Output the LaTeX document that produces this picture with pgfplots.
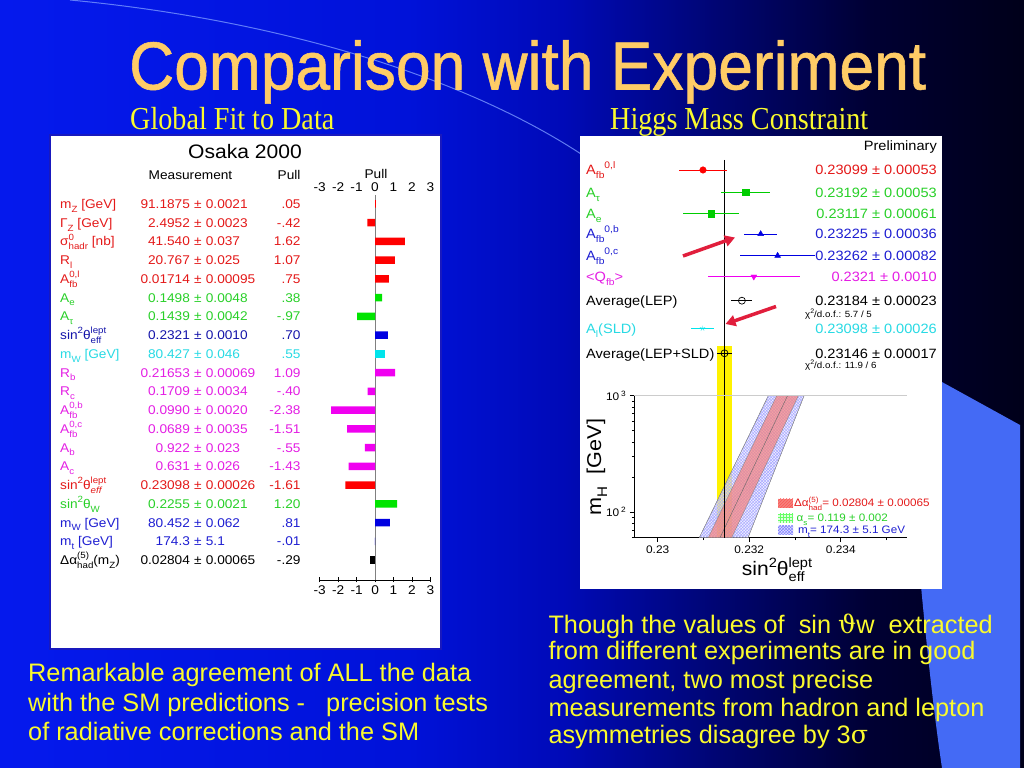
\documentclass[border=0pt]{standalone}
\usepackage{fontspec}
\usepackage{pgfplots}
\pgfplotsset{compat=1.18}
\usetikzlibrary{patterns,arrows.meta}
\setmainfont{Liberation Sans}
\newfontfamily\pf[FakeStretch=1.08]{Liberation Sans}
\newfontfamily\titlef[FakeStretch=0.917,FakeBold=0.8]{Liberation Sans}
\newfontfamily\subf[FakeStretch=0.88]{Liberation Serif}
\newfontfamily\dvs{DejaVu Serif}

\definecolor{tred}{RGB}{228,25,25}
\definecolor{tgreen}{RGB}{40,208,40}
\definecolor{tblue}{RGB}{30,30,210}
\definecolor{tdblue}{RGB}{20,20,170}
\definecolor{tcyan}{RGB}{40,218,228}
\definecolor{tmag}{RGB}{228,30,228}
\definecolor{bred}{RGB}{255,0,0}
\definecolor{bgreen}{RGB}{0,228,0}
\definecolor{bblue}{RGB}{0,0,225}
\definecolor{bcyan}{RGB}{0,228,235}
\definecolor{bmag}{RGB}{240,0,240}
\definecolor{titlec}{RGB}{255,204,102}
\definecolor{yel}{RGB}{250,250,45}
\definecolor{lightb}{RGB}{68,106,245}
\definecolor{arrowred}{RGB}{225,30,60}
\definecolor{tbord}{RGB}{25,25,190}
\definecolor{arcc}{RGB}{120,150,255}
\definecolor{salmon}{RGB}{245,130,125}

\pgfdeclarehorizontalshading{bgsh}{100bp}{rgb(0bp)=(0.02,0.1,0.93); rgb(25bp)=(0.02,0.1,0.93); rgb(45bp)=(0,0.07,0.85); rgb(52.5bp)=(0,0.04,0.72); rgb(60bp)=(0,0.02,0.45); rgb(67.5bp)=(0,0,0.2); rgb(75bp)=(0,0,0.1); rgb(100bp)=(0,0,0.1)}

\newdimen\scrsize \scrsize=9bp
\newcommand\scr{\fontsize{\scrsize}{\scrsize}\selectfont}
\newcommand\sub[1]{\raisebox{-0.3em}{\scr #1}}
\newcommand\sups[1]{\raisebox{0.45em}{\scr #1}}
\newcommand\supsub[2]{{\setbox0\hbox{\sups{#1}}\setbox2\hbox{\sub{#2}}\ifdim\wd0>\wd2 \rlap{\box2}\box0 \else\rlap{\box0}\box2 \fi}}

\tikzset{
 L/.style={inner sep=0pt, font={\pf\fontsize{12.65bp}{14bp}\selectfont\scrsize=9bp}},
 R/.style={inner sep=0pt, font={\pf\fontsize{13.5bp}{15bp}\selectfont\scrsize=9.5bp}},
}
\newcommand\lrow[6]{%
 \pgfmathsetmacro\yy{768-(204+(#1-1)*18.74)-4.5}%
 \node[L,anchor=base west,text=#2] at (60,\yy) {#3};%
 \node[L,anchor=base east,text=#2] at (190.1,\yy) {#4};%
 \node[L,anchor=base,text=#2] at (197.9,\yy) {±};%
 \node[L,anchor=base west,text=#2] at (205.7,\yy) {#5};%
 \node[L,anchor=base east,text=#2] at (300.7,\yy) {#6};}
\newcommand\rrow[4]{%
 \pgfmathsetmacro\yy{768-#1-4.8}%
 \node[R,anchor=base west,text=#2] at (586,\yy) {#3};%
 \node[R,anchor=base east,text=#2] at (937,\yy) {#4};}

\begin{document}
\begin{tikzpicture}[x=1bp,y=1bp]
\useasboundingbox (0,0) rectangle (1024,768);
\shade[shading=bgsh] (0,0) rectangle (1024,768);
\fill[lightb] (902,408) -- (1020,343) -- (1020,0) -- (942,0) .. controls (930,80) and (918,200) .. (902,408) -- cycle;
\draw[arcc, line width=1bp, opacity=0.8] (70,768) .. controls (280,748) and (470,690) .. (590,608);

% title
\node[anchor=base west, inner sep=0, text=titlec, font={\titlef\fontsize{68bp}{70bp}\selectfont}] at (129,768-89.5) {Comparison with Experiment};
\node[anchor=base west, inner sep=0, text=yel, font={\subf\fontsize{32bp}{34bp}\selectfont}] at (130,768-130) {Global Fit to Data};
\node[anchor=base west, inner sep=0, text=yel, font={\subf\fontsize{32bp}{34bp}\selectfont}] at (610,768-130) {Higgs Mass Constraint};

% panels
\fill[white] (50,768-649) rectangle (441,768-135);
\draw[tbord, line width=2bp] (50,768-649) rectangle (441,768-135);
\fill[white] (580,768-589) rectangle (942,768-136);

% ---------- left panel ----------
\node[L, anchor=base, font={\pf\fontsize{19.5bp}{20bp}\selectfont}] at (245,768-158.7) {Osaka 2000};
\node[L, anchor=base] at (190.5,768-179.5) {Measurement};
\node[L, anchor=base east] at (300.7,768-179.5) {Pull};
\node[L, anchor=base] at (376,768-178.8) {Pull};
\foreach \v in {-3,...,3} {\node[L, anchor=base] at ({375+18.45*\v},768-191.8) {\v};}

\lrow{1}{tred}{m\sub{Z} [GeV]}{91.1875}{0.0021}{.05}
\lrow{2}{tred}{Γ\sub{Z} [GeV]}{2.4952}{0.0023}{-.42}
\lrow{3}{tred}{σ\supsub{0}{hadr} [nb]}{41.540}{0.037}{1.62}
\lrow{4}{tred}{R\sub{l}}{20.767}{0.025}{1.07}
\lrow{5}{tred}{A\supsub{0,l}{fb}}{0.01714}{0.00095}{.75}
\lrow{6}{tgreen}{A\sub{e}}{0.1498}{0.0048}{.38}
\lrow{7}{tgreen}{A\sub{τ}}{0.1439}{0.0042}{-.97}
\lrow{8}{tdblue}{sin\sups{2}θ\supsub{lept}{eff}}{0.2321}{0.0010}{.70}
\lrow{9}{tcyan}{m\sub{W} [GeV]}{80.427}{0.046}{.55}
\lrow{10}{tmag}{R\sub{b}}{0.21653}{0.00069}{1.09}
\lrow{11}{tmag}{R\sub{c}}{0.1709}{0.0034}{-.40}
\lrow{12}{tmag}{A\supsub{0,b}{fb}}{0.0990}{0.0020}{-2.38}
\lrow{13}{tmag}{A\supsub{0,c}{fb}}{0.0689}{0.0035}{-1.51}
\lrow{14}{tmag}{A\sub{b}}{0.922}{0.023}{-.55}
\lrow{15}{tmag}{A\sub{c}}{0.631}{0.026}{-1.43}
\lrow{16}{tred}{sin\sups{2}θ\supsub{lept}{\itshape eff}}{0.23098}{0.00026}{-1.61}
\lrow{17}{tgreen}{sin\sups{2}θ\sub{W}}{0.2255}{0.0021}{1.20}
\lrow{18}{tblue}{m\sub{W} [GeV]}{80.452}{0.062}{.81}
\lrow{19}{tblue}{m\sub{t} [GeV]}{174.3}{5.1}{-.01}
\lrow{20}{black}{Δα\supsub{(5)}{had}(m\sub{Z})}{0.02804}{0.00065}{-.29}

\begin{axis}[at={(319.7bp,188bp)}, anchor=south west, scale only axis,
  width=110.7bp, height=385bp, xmin=-3, xmax=3, ymin=0.52, ymax=21.064,
  y dir=reverse, enlargelimits=false, axis x line*=bottom, axis y line=none,
  axis line style={-, black, line width=0.7bp},
  xtick={-3,-2,-1,0,1,2,3}, ytick=\empty, xtick align=center, major tick length=5bp,
  tick style={black, line width=0.7bp},
  tick label style={font={\pf\fontsize{12.65bp}{14bp}\selectfont}},
  /pgf/number format/assume math mode=true, clip=false]
\draw[black!50, line width=0.8bp] (axis cs:0,0.52) -- (axis cs:0,21.064);
\addplot[xbar, bar shift=0pt, bar width=7.5bp, fill=bred, draw=none] coordinates {(0.05,1) (-0.42,2) (1.62,3) (1.07,4) (0.75,5) (-1.61,16)};
\addplot[xbar, bar shift=0pt, bar width=7.5bp, fill=bgreen, draw=none] coordinates {(0.38,6) (-0.97,7) (1.20,17)};
\addplot[xbar, bar shift=0pt, bar width=7.5bp, fill=bblue, draw=none] coordinates {(0.70,8) (0.81,18) (-0.01,19)};
\addplot[xbar, bar shift=0pt, bar width=7.5bp, fill=bcyan, draw=none] coordinates {(0.55,9)};
\addplot[xbar, bar shift=0pt, bar width=7.5bp, fill=bmag, draw=none] coordinates {(1.09,10) (-0.40,11) (-2.38,12) (-1.51,13) (-0.55,14) (-1.43,15)};
\addplot[xbar, bar shift=0pt, bar width=7.5bp, fill=black, draw=none] coordinates {(-0.29,20)};
\end{axis}

% ---------- right panel ----------
\node[R, anchor=base east] at (937,768-150.5) {Preliminary};
\rrow{170}{tred}{A\sub{fb}\sups{0,l}}{0.23099 ± 0.00053}
\rrow{192.3}{tgreen}{A\sub{τ}}{0.23192 ± 0.00053}
\rrow{213.7}{tgreen}{A\sub{e}}{0.23117 ± 0.00061}
\rrow{234}{tblue}{A\sub{fb}\sups{0,b}}{0.23225 ± 0.00036}
\rrow{255.7}{tblue}{A\sub{fb}\sups{0,c}}{0.23262 ± 0.00082}
\rrow{276.7}{tmag}{<Q\sub{fb}>}{0.2321 ± 0.0010}
\rrow{300.7}{black}{Average(LEP)}{0.23184 ± 0.00023}
\rrow{328.3}{tcyan}{A\sub{l}(SLD)}{0.23098 ± 0.00026}
\rrow{353.3}{black}{Average(LEP+SLD)}{0.23146 ± 0.00017}
\node[anchor=base west, inner sep=0, font={\pf\fontsize{9bp}{10bp}\selectfont\scrsize=6.5bp}] at (805,768-317.5) {χ\sups{2}/d.o.f.: 5.7 / 5};
\node[anchor=base west, inner sep=0, font={\pf\fontsize{9bp}{10bp}\selectfont\scrsize=6.5bp}] at (805,768-368.5) {χ\sups{2}/d.o.f.: 11.9 / 6};

\begin{axis}[at={(634.3bp,230.3bp)}, anchor=south west, scale only axis,
  width=272.4bp, height=397.7bp, xmin=0.22949, xmax=0.23544, ymin=140, ymax=537.7,
  y dir=reverse, hide axis, clip=false]
\addplot[fill=yellow, draw=none] coordinates {(0.23129,346) (0.23163,346) (0.23163,537.7) (0.23129,537.7)} -- cycle;
\addplot[black, line width=0.8bp] coordinates {(0.23146,160) (0.23146,537.7)};
\addplot[only marks, mark=*, mark size=3.3, color=bred, error bars/.cd, x dir=both, x explicit, error mark=none, error bar style={line width=0.8bp, bred}] coordinates {(0.23099,170) +- (0.00053,0)};
\addplot[only marks, mark=square*, mark size=3.2, color=bgreen!90!black, error bars/.cd, x dir=both, x explicit, error mark=none, error bar style={line width=0.8bp, bgreen!90!black}] coordinates {(0.23192,192.3) +- (0.00053,0) (0.23117,213.7) +- (0.00061,0)};
\addplot[only marks, mark=triangle*, mark size=3.4, color=bblue, error bars/.cd, x dir=both, x explicit, error mark=none, error bar style={line width=0.8bp, bblue}] coordinates {(0.23225,234) +- (0.00036,0) (0.23262,255.7) +- (0.00082,0)};
\addplot[only marks, mark=triangle*, mark size=3.4, color=bmag, mark options={rotate=180}, error bars/.cd, x dir=both, x explicit, error mark=none, error bar style={line width=0.8bp, bmag}] coordinates {(0.2321,276.7) +- (0.0010,0)};
\addplot[only marks, mark=o, mark size=3.5, color=black, mark options={line width=0.7bp}, error bars/.cd, x dir=both, x explicit, error mark=none, error bar style={line width=0.8bp, black}] coordinates {(0.23184,300.7) +- (0.00023,0) (0.23146,353.3) +- (0.00017,0)};
\addplot[only marks, mark=star, mark size=2.8, color=bcyan, error bars/.cd, x dir=both, x explicit, error mark=none, error bar style={line width=0.8bp, bcyan}] coordinates {(0.23098,328.3) +- (0.00026,0)};
\end{axis}

\begin{axis}[at={(634.3bp,230.3bp)}, anchor=south west, scale only axis,
  width=272.4bp, height=142bp, xmin=0.22949, xmax=0.23544, ymin=60, ymax=1000,
  ymode=log, axis x line*=bottom, axis y line*=left,
  axis line style={-, black, line width=1.3bp},
  xtick={0.23,0.232,0.234}, xticklabels={0.23,0.232,0.234}, minor xtick={0.231,0.233,0.235},
  ytick={100,1000}, yticklabels={10\,\textsuperscript{2},10\,\textsuperscript{3}},
  minor ytick={60,70,80,90,200,300,400,500,600,700,800,900},
  tick align=outside, major tick length=4.5bp, minor tick length=2.5bp,
  tick style={black, line width=0.6bp},
  tick label style={font={\pf\fontsize{11bp}{12bp}\selectfont}},
  scaled x ticks=false, clip=false]
\addplot[fill=blue!10, fill opacity=0.6, draw=black!50, line width=0.3bp, postaction={pattern=crosshatch, pattern color=blue!35}] coordinates {(0.230909,60) (0.232417,1000) (0.233198,1000) (0.231974,60)} -- cycle;
\addplot[fill=salmon, fill opacity=0.7, draw=black!50, line width=0.3bp] coordinates {(0.231106,60) (0.232601,1000) (0.233073,1000) (0.231617,60)} -- cycle;
\addplot[black!60, line width=0.4bp] coordinates {(0.231362,60) (0.232837,1000)};
\addplot[black, line width=0.8bp] coordinates {(0.23146,60) (0.23146,1000)};
\draw[black!20, line width=0.6bp] (rel axis cs:0,1) -- (rel axis cs:1,1);
\end{axis}

% Higgs legend
\fill[salmon] (778,768-508) rectangle (793,768-499);
\fill[pattern=north east lines, pattern color=red!70] (778,768-508) rectangle (793,768-499);
\fill[green!12] (778,768-523) rectangle (793,768-514);
\fill[pattern=grid, pattern color=green!60] (778,768-523) rectangle (793,768-514);
\fill[blue!12] (778,768-535) rectangle (793,768-526);
\fill[pattern=crosshatch, pattern color=blue!50] (778,768-535) rectangle (793,768-526);
\node[anchor=base west, inner sep=0, text=tred, font={\pf\fontsize{10.8bp}{12bp}\selectfont\scrsize=7.5bp}] at (794,768-507) {Δα\supsub{(5)}{had}= 0.02804 ± 0.00065};
\node[anchor=base west, inner sep=0, text=tgreen, font={\pf\fontsize{10.8bp}{12bp}\selectfont\scrsize=7.5bp}] at (796.5,768-522) {α\sub{s}= 0.119 ± 0.002};
\node[anchor=base west, inner sep=0, text=tblue, font={\pf\fontsize{10.8bp}{12bp}\selectfont\scrsize=7.5bp}] at (798,768-534) {m\sub{t}= 174.3 ± 5.1 GeV};

% axis labels
\node[rotate=90, anchor=base, inner sep=0, font={\pf\fontsize{20bp}{22bp}\selectfont\scrsize=14bp}] at (601,768-467) {m\sub{H}\ \ [GeV]};
\node[anchor=base west, inner sep=0, font={\pf\fontsize{19.5bp}{22bp}\selectfont\scrsize=13.5bp}] at (741.7,768-576) {sin\sups{2}θ\supsub{lept}{eff}};

% arrows
\draw[arrowred, line width=3.5bp, -{Triangle[length=10bp,width=11bp]}] (683,768-256) -- (735,768-237.5);
\draw[arrowred, line width=3.5bp, -{Triangle[length=10bp,width=11bp]}] (776,768-306.5) -- (725.5,768-324);

% bottom texts
\begin{scope}[every node/.style={anchor=base west, inner sep=0, text=yel, font={\fontsize{25.3bp}{30bp}\selectfont}}]
\node at (28,768-681.7) {Remarkable agreement of ALL the data};
\node at (28,768-711.7) {with the SM predictions -\ \ \ precision tests};
\node at (28,768-740.7) {of radiative corrections and the SM};
\node at (548.3,768-633.3) {Though the values of\ \ sin {\dvs ϑ}w\ \ extracted};
\node at (548.3,768-660) {from different experiments are in good};
\node at (548.3,768-688.3) {agreement, two most precise};
\node at (548.3,768-716.7) {measurements from hadron and lepton};
\node at (548.3,768-743.3) {asymmetries disagree by 3{\dvs σ}};
\end{scope}
\end{tikzpicture}
\end{document}
